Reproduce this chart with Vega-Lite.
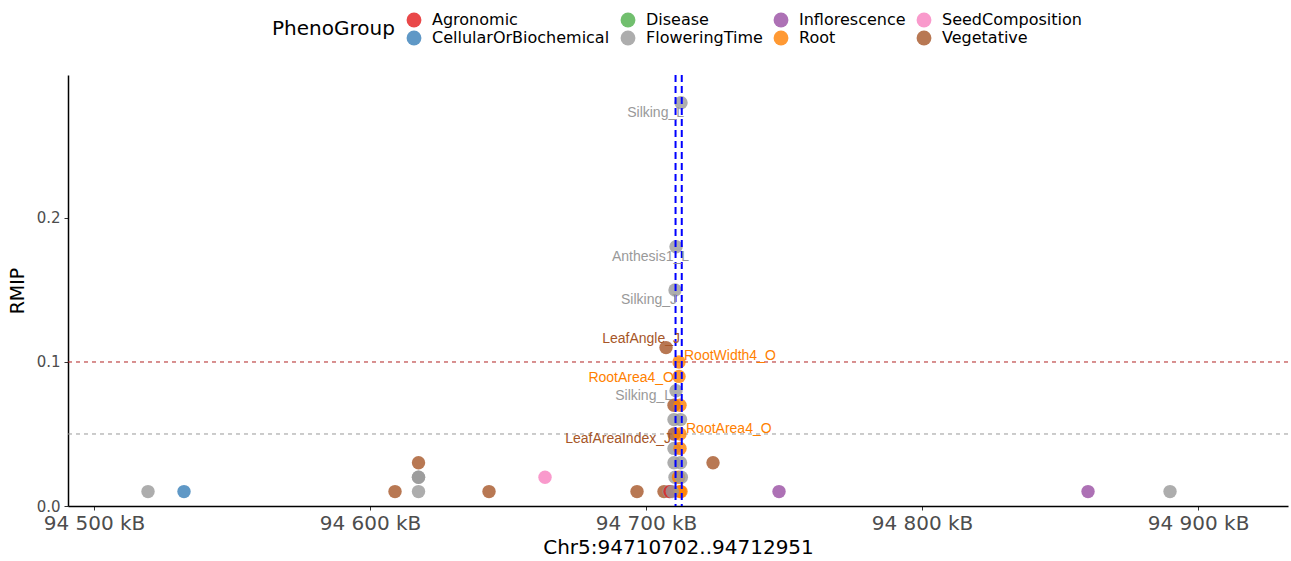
{
  "$schema": "https://vega.github.io/schema/vega-lite/v6.json",
  "width": 1220,
  "height": 431,
  "autosize": {"type": "none"},
  "padding": {"left": 68, "top": 75, "right": 3, "bottom": 55},
  "background": "white",
  "config": {"view": {"stroke": null}, "font": "DejaVu Sans"},
  "datasets": {
    "points": [
      {"pos": 94519566, "RMIP": 0.01, "PhenoGroup": "FloweringTime"},
      {"pos": 94532609, "RMIP": 0.01, "PhenoGroup": "CellularOrBiochemical"},
      {"pos": 94609059, "RMIP": 0.01, "PhenoGroup": "Vegetative"},
      {"pos": 94617573, "RMIP": 0.01, "PhenoGroup": "FloweringTime"},
      {"pos": 94617573, "RMIP": 0.02, "PhenoGroup": "FloweringTime"},
      {"pos": 94617573, "RMIP": 0.02, "PhenoGroup": "FloweringTime"},
      {"pos": 94617573, "RMIP": 0.03, "PhenoGroup": "Vegetative"},
      {"pos": 94643117, "RMIP": 0.01, "PhenoGroup": "Vegetative"},
      {"pos": 94663407, "RMIP": 0.02, "PhenoGroup": "SeedComposition"},
      {"pos": 94696740, "RMIP": 0.01, "PhenoGroup": "Vegetative"},
      {"pos": 94706523, "RMIP": 0.01, "PhenoGroup": "Vegetative"},
      {"pos": 94708334, "RMIP": 0.01, "PhenoGroup": "FloweringTime"},
      {"pos": 94708696, "RMIP": 0.01, "PhenoGroup": "Agronomic"},
      {"pos": 94712320, "RMIP": 0.01, "PhenoGroup": "Root"},
      {"pos": 94712682, "RMIP": 0.01, "PhenoGroup": "Root"},
      {"pos": 94724276, "RMIP": 0.03, "PhenoGroup": "Vegetative"},
      {"pos": 94748190, "RMIP": 0.01, "PhenoGroup": "Inflorescence"},
      {"pos": 94860146, "RMIP": 0.01, "PhenoGroup": "Inflorescence"},
      {"pos": 94889857, "RMIP": 0.01, "PhenoGroup": "FloweringTime"},
      {"pos": 94712682, "RMIP": 0.28, "PhenoGroup": "FloweringTime"},
      {"pos": 94710871, "RMIP": 0.18, "PhenoGroup": "FloweringTime"},
      {"pos": 94710509, "RMIP": 0.15, "PhenoGroup": "FloweringTime"},
      {"pos": 94707247, "RMIP": 0.11, "PhenoGroup": "Vegetative"},
      {"pos": 94711958, "RMIP": 0.10, "PhenoGroup": "Root"},
      {"pos": 94711958, "RMIP": 0.09, "PhenoGroup": "Root"},
      {"pos": 94710871, "RMIP": 0.08, "PhenoGroup": "FloweringTime"},
      {"pos": 94710146, "RMIP": 0.07, "PhenoGroup": "Vegetative"},
      {"pos": 94712320, "RMIP": 0.07, "PhenoGroup": "Root"},
      {"pos": 94710146, "RMIP": 0.06, "PhenoGroup": "FloweringTime"},
      {"pos": 94712500, "RMIP": 0.06, "PhenoGroup": "FloweringTime"},
      {"pos": 94710146, "RMIP": 0.05, "PhenoGroup": "Vegetative"},
      {"pos": 94712320, "RMIP": 0.05, "PhenoGroup": "Root"},
      {"pos": 94710146, "RMIP": 0.04, "PhenoGroup": "FloweringTime"},
      {"pos": 94712320, "RMIP": 0.04, "PhenoGroup": "Root"},
      {"pos": 94710146, "RMIP": 0.03, "PhenoGroup": "FloweringTime"},
      {"pos": 94712500, "RMIP": 0.03, "PhenoGroup": "FloweringTime"},
      {"pos": 94710509, "RMIP": 0.02, "PhenoGroup": "FloweringTime"},
      {"pos": 94711800, "RMIP": 0.02, "PhenoGroup": "Root"},
      {"pos": 94712800, "RMIP": 0.02, "PhenoGroup": "FloweringTime"},
      {"pos": 94709500, "RMIP": 0.01, "PhenoGroup": "FloweringTime"}
    ],
    "labels": [
      {"label": "Silking_L", "PhenoGroup": "FloweringTime", "side": "right", "lx": 94713768, "ly": 0.2729},
      {"label": "Anthesis1_L", "PhenoGroup": "FloweringTime", "side": "right", "lx": 94715580, "ly": 0.1729},
      {"label": "Silking_J", "PhenoGroup": "FloweringTime", "side": "right", "lx": 94711232, "ly": 0.1431},
      {"label": "LeafAngle_J", "PhenoGroup": "Vegetative", "side": "right", "lx": 94712319, "ly": 0.1160},
      {"label": "RootArea4_O", "PhenoGroup": "Root", "side": "right", "lx": 94710145, "ly": 0.0889},
      {"label": "Silking_L", "PhenoGroup": "FloweringTime", "side": "right", "lx": 94709421, "ly": 0.0764},
      {"label": "LeafAreaIndex_J", "PhenoGroup": "Vegetative", "side": "right", "lx": 94709058, "ly": 0.0465},
      {"label": "RootWidth4_O", "PhenoGroup": "Root", "side": "left", "lx": 94713768, "ly": 0.1042},
      {"label": "RootArea4_O", "PhenoGroup": "Root", "side": "left", "lx": 94714493, "ly": 0.0535}
    ],
    "hlines": [
      {"RMIP": 0.1, "kind": "strong"},
      {"RMIP": 0.05, "kind": "weak"}
    ],
    "vlines": [
      {"pos": 94710702},
      {"pos": 94712951}
    ]
  },
  "layer": [
    {
      "data": {"name": "hlines"},
      "transform": [{"filter": "datum.kind == 'strong'"}],
      "mark": {"type": "rule", "color": "#B22222", "strokeWidth": 1, "strokeDash": [4, 4]},
      "encoding": {"y": {"field": "RMIP", "type": "quantitative"}}
    },
    {
      "data": {"name": "hlines"},
      "transform": [{"filter": "datum.kind == 'weak'"}],
      "mark": {"type": "rule", "color": "#999999", "strokeWidth": 1, "strokeDash": [4, 4]},
      "encoding": {"y": {"field": "RMIP", "type": "quantitative"}}
    },
    {
      "data": {"name": "points"},
      "mark": {"type": "circle", "size": 180, "opacity": 0.8},
      "encoding": {
        "x": {
          "field": "pos", "type": "quantitative",
          "scale": {"domain": [94490580, 94932600], "nice": false, "zero": false},
          "axis": {
            "title": "Chr5:94710702..94712951",
            "values": [94500000, 94600000, 94700000, 94800000, 94900000],
            "labelExpr": "replace(format(datum.value/1000, ','), ',', ' ') + ' kB'",
            "grid": false,
            "domainColor": "black", "domainWidth": 1.5,
            "tickColor": "#333333", "tickSize": 4, "tickWidth": 1,
            "labelFont": "DejaVu Sans", "labelFontSize": 20, "labelColor": "#4D4D4D", "labelPadding": 3,
            "titleFont": "DejaVu Sans", "titleFontSize": 20, "titleFontWeight": "normal", "titleColor": "black", "titlePadding": 4
          }
        },
        "y": {
          "field": "RMIP", "type": "quantitative",
          "scale": {"domain": [0, 0.2993], "nice": false},
          "axis": {
            "title": "RMIP",
            "values": [0, 0.1, 0.2],
            "format": ".1f",
            "grid": false,
            "domainColor": "black", "domainWidth": 1.5,
            "tickColor": "#333333", "tickSize": 4, "tickWidth": 1,
            "labelFont": "DejaVu Sans", "labelFontSize": 15, "labelColor": "#4D4D4D", "labelPadding": 4,
            "titleFont": "DejaVu Sans", "titleFontSize": 19, "titleFontWeight": "normal", "titleColor": "black", "titlePadding": 9
          }
        },
        "color": {
          "field": "PhenoGroup", "type": "nominal",
          "scale": {
            "domain": ["Agronomic", "Disease", "Inflorescence", "SeedComposition", "CellularOrBiochemical", "FloweringTime", "Root", "Vegetative"],
            "range": ["#E41A1C", "#4DAF4A", "#984EA3", "#F781BF", "#377EB8", "#999999", "#FF7F00", "#A65628"]
          },
          "legend": {
            "title": "PhenoGroup",
            "orient": "none",
            "legendX": 204,
            "legendY": -63,
            "direction": "horizontal",
            "columns": 4,
            "titleOrient": "left",
            "titleAnchor": "middle",
            "titleFont": "DejaVu Sans",
            "titleFontSize": 20,
            "titleFontWeight": "normal",
            "titleColor": "black",
            "titlePadding": 11,
            "labelFont": "DejaVu Sans",
            "labelFontSize": 16,
            "labelColor": "black",
            "labelOffset": 10,
            "symbolType": "circle",
            "symbolSize": 220,
            "symbolOpacity": 0.8,
            "symbolStrokeWidth": 0,
            "columnPadding": 10,
            "rowPadding": 2,
            "labelLimit": 300
          }
        }
      }
    },
    {
      "data": {"name": "vlines"},
      "mark": {"type": "rule", "color": "blue", "strokeWidth": 2, "strokeDash": [7, 4]},
      "encoding": {"x": {"field": "pos", "type": "quantitative"}}
    },
    {
      "data": {"name": "labels"},
      "transform": [{"filter": "datum.side == 'right'"}],
      "mark": {"type": "text", "align": "right", "baseline": "middle", "font": "Liberation Sans", "fontSize": 14},
      "encoding": {
        "x": {"field": "lx", "type": "quantitative"},
        "y": {"field": "ly", "type": "quantitative"},
        "text": {"field": "label"},
        "color": {"field": "PhenoGroup", "type": "nominal", "legend": null}
      }
    },
    {
      "data": {"name": "labels"},
      "transform": [{"filter": "datum.side == 'left'"}],
      "mark": {"type": "text", "align": "left", "baseline": "middle", "font": "Liberation Sans", "fontSize": 14},
      "encoding": {
        "x": {"field": "lx", "type": "quantitative"},
        "y": {"field": "ly", "type": "quantitative"},
        "text": {"field": "label"},
        "color": {"field": "PhenoGroup", "type": "nominal", "legend": null}
      }
    }
  ]
}
